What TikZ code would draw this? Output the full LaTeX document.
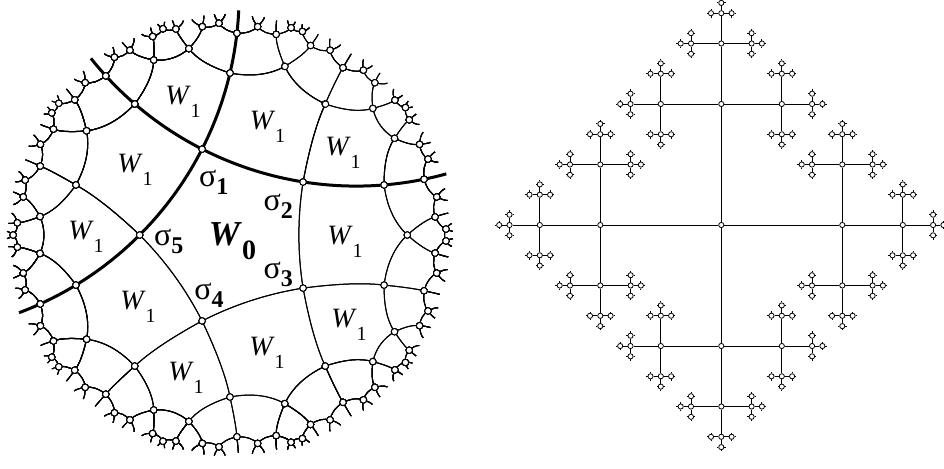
\documentclass[tikz,border=0pt]{standalone}
\usepackage{fontspec}
\setmainfont{Liberation Serif}

% pentagon tiling data (unit disk)
\def\rsq{2.236068}
\def\thr{0.916}
\def\tiledepth{9}
\gdef\knotlist{}
\newif\ifallow
\newcommand\setv[3]{\expandafter\def\csname vx#1\endcsname{#2}\expandafter\def\csname vy#1\endcsname{#3}}
\newcommand\setm[3]{\expandafter\def\csname mx#1\endcsname{#2}\expandafter\def\csname my#1\endcsname{#3}}
\newcommand\setc[3]{\expandafter\def\csname cx#1\endcsname{#2}\expandafter\def\csname cy#1\endcsname{#3}}
\setv1{-0.122984}{0.378507}\setv2{0.321977}{0.233931}\setv3{0.321977}{-0.233931}
\setv4{-0.122984}{-0.378507}\setv5{-0.397986}{0}
\setm1{0.093793}{0.288667}\setm2{0.303522}{0}\setm3{0.093793}{-0.288667}
\setm4{-0.245555}{-0.178406}\setm5{-0.245555}{0.178406}
\setc1{0.555882}{1.710829}\setc2{1.798871}{0}\setc3{0.555882}{-1.710829}
\setc4{-1.455317}{-1.057349}\setc5{-1.455317}{1.057349}

\newcommand\reflpt[3]{%
  \pgfmathsetmacro\tdx{(\csname #1x#2\endcsname)-(\csname cx#3\endcsname)}%
  \pgfmathsetmacro\tdy{(\csname #1y#2\endcsname)-(\csname cy#3\endcsname)}%
  \pgfmathsetmacro\tq{\rsq/((\tdx)*(\tdx)+(\tdy)*(\tdy))}%
  \expandafter\pgfmathsetmacro\csname #1x#2\endcsname{\csname cx#3\endcsname+\tq*(\tdx)}%
  \expandafter\pgfmathsetmacro\csname #1y#2\endcsname{\csname cy#3\endcsname+\tq*(\tdy)}}
\newcommand\reflall[1]{%
  \reflpt{v}{1}{#1}\reflpt{v}{2}{#1}\reflpt{v}{3}{#1}\reflpt{v}{4}{#1}\reflpt{v}{5}{#1}%
  \reflpt{m}{1}{#1}\reflpt{m}{2}{#1}\reflpt{m}{3}{#1}\reflpt{m}{4}{#1}\reflpt{m}{5}{#1}}
\newcommand\chkin[1]{%
  \pgfmathsetmacro\rr{(\csname vx#1\endcsname)*(\csname vx#1\endcsname)+(\csname vy#1\endcsname)*(\csname vy#1\endcsname)}%
  \ifdim\rr pt<\thr pt \expandafter\def\csname fl#1\endcsname{1}\else\expandafter\def\csname fl#1\endcsname{0}\fi}
\newcommand\edgek[2]{%
  \ifnum\numexpr\csname fl#1\endcsname+\csname fl#2\endcsname\relax>0
    \edef\ax{\csname vx#1\endcsname}\edef\ay{\csname vy#1\endcsname}%
    \edef\bx{\csname vx#2\endcsname}\edef\by{\csname vy#2\endcsname}%
    \edef\mx{\csname mx#1\endcsname}\edef\my{\csname my#1\endcsname}%
    \pgfmathsetmacro\pax{4/3*(\mx)-1/3*(\bx)}\pgfmathsetmacro\pay{4/3*(\my)-1/3*(\by)}%
    \pgfmathsetmacro\pbx{4/3*(\mx)-1/3*(\ax)}\pgfmathsetmacro\pby{4/3*(\my)-1/3*(\ay)}%
    \draw[seg] (\ax,\ay) .. controls (\pax,\pay) and (\pbx,\pby) .. (\bx,\by);
  \fi}
\newcommand\knotk[1]{%
  \ifnum\csname fl#1\endcsname=1
    \edef\ax{\csname vx#1\endcsname}\edef\ay{\csname vy#1\endcsname}%
    \xdef\knotlist{\unexpanded\expandafter{\knotlist}\noexpand\kn{\ax}{\ay}}%
  \fi}
\newcommand\kn[2]{\draw[vtx] (#1,#2) circle[radius=1.6pt];}
\newcommand\allowtest[2]{%
  \allowtrue
  \ifnum#1=#2\relax\allowfalse\fi
  \ifnum#1>0\relax
    \ifnum#2>#1\relax
      \ifnum\numexpr(#2-#1)*(#2-#1)\relax=1 \allowfalse\fi
      \ifnum\numexpr(#2-#1)*(#2-#1)\relax=16 \allowfalse\fi
    \fi
  \fi}
\newcommand\tile[2]{%
  \chkin1\chkin2\chkin3\chkin4\chkin5
  \ifnum\numexpr\csname fl1\endcsname+\csname fl2\endcsname+\csname fl3\endcsname+\csname fl4\endcsname+\csname fl5\endcsname\relax>0
    \edgek12\edgek23\edgek34\edgek45\edgek51
    \knotk1\knotk2\knotk3\knotk4\knotk5
    \ifnum#2<\tiledepth\relax
      \foreach \wj in {1,...,5}{%
        \allowtest{#1}{\wj}%
        \ifallow
          \reflall{\wj}%
          \edef\next{\noexpand\tile{\wj}{\the\numexpr#2+1\relax}}\next
        \fi}%
    \fi
  \fi}

% tree data (pixels)
\expandafter\def\csname len1\endcsname{121}
\expandafter\def\csname len2\endcsname{60.5}
\expandafter\def\csname len3\endcsname{30.3}
\expandafter\def\csname len4\endcsname{10.3}
\expandafter\def\csname len5\endcsname{4.3}
\newcommand\grow[5]{%
  \foreach \dr/\ux/\uy in {1/1/0,2/0/-1,3/-1/0,4/0/1}{%
    \ifnum\dr=#4\relax\else
      \pgfmathsetmacro\nx{#2+\ux*\csname len#5\endcsname}%
      \pgfmathsetmacro\ny{#3+\uy*\csname len#5\endcsname}%
      \ifnum#5<5\relax
        \node[knot] (#1\dr) at (\nx,\ny) {};
        \draw[twig] (#1) -- (#1\dr);
        \pgfmathtruncatemacro\bk{mod(\dr+1,4)+1}%
        \edef\next{\noexpand\grow{#1\dr}{\nx}{\ny}{\bk}{\the\numexpr#5+1\relax}}\next
      \else
        \coordinate (#1\dr) at (\nx,\ny);
        \draw[twig] (#1) -- (#1\dr);
      \fi
    \fi}}

\newcommand\Wone{\textit{W}\raisebox{-6.5pt}{\fontsize{10}{11}\selectfont 1}}
\newcommand\Wzero{\textbf{\textit{W}}\raisebox{-7pt}{\fontsize{14}{15}\selectfont\bfseries 0}}
\newcommand\sig[1]{σ\raisebox{-4pt}{\fontsize{12}{13}\selectfont\bfseries #1}}

\begin{document}
\begin{tikzpicture}[x=0.5pt, y=-0.5pt,
  seg/.style={line width=0.5pt},
  wall/.style={line width=1.5pt},
  vtx/.style={draw, fill=white, line width=0.45pt},
  knot/.style={circle, draw, fill=white, inner sep=0pt, minimum size=2.6pt, line width=0.4pt},
  twig/.style={line width=0.5pt},
  wlab/.style={inner sep=0pt, font=\fontsize{14}{16}\selectfont},
  w0lab/.style={inner sep=0pt, font=\fontsize{17.5}{19}\selectfont},
  slab/.style={inner sep=0pt, font=\fontsize{16}{17}\selectfont}]
  \useasboundingbox (0,0) rectangle (944,468);

  % hyperbolic disk
  \begin{scope}[shift={(230,235)}, x=113.5pt, y=113.5pt]
    \tile{0}{0}
    \draw[wall] (0.555882,1.710829) ++(218.6:1.495349) arc[start angle=218.6, end angle=285.4, radius=1.495349];
    \draw[wall] (-1.455317,1.057349) ++(290.6:1.495349) arc[start angle=290.6, end angle=357.4, radius=1.495349];
    \knotlist
  \end{scope}

  % labels
  \node[w0lab] (w0) at (232.5,241.2) {\Wzero};
  \node[slab] (s1) at (213.7,182) {\sig1};
  \node[slab] (s2) at (278.3,206.3) {\sig2};
  \node[slab] (s3) at (278.3,274.5) {\sig3};
  \node[slab] (s4) at (209,295) {\sig4};
  \node[slab] (s5) at (168.8,241.7) {\sig5};
  \node[wlab] (wa) at (183,101.5) {\Wone};
  \node[wlab] (wb) at (267.5,126.7) {\Wone};
  \node[wlab] (wc) at (343,153) {\Wone};
  \node[wlab] (wd) at (135,170) {\Wone};
  \node[wlab] (we) at (86,237) {\Wone};
  \node[wlab] (wf) at (138,307) {\Wone};
  \node[wlab] (wg) at (345,242) {\Wone};
  \node[wlab] (wh) at (349,325) {\Wone};
  \node[wlab] (wi) at (267,353) {\Wone};
  \node[wlab] (wj) at (186,378) {\Wone};

  % tree
  \node[knot] (r) at (721.3,225) {};
  \grow{r}{721.3}{225}{0}{1}
\end{tikzpicture}
\end{document}
